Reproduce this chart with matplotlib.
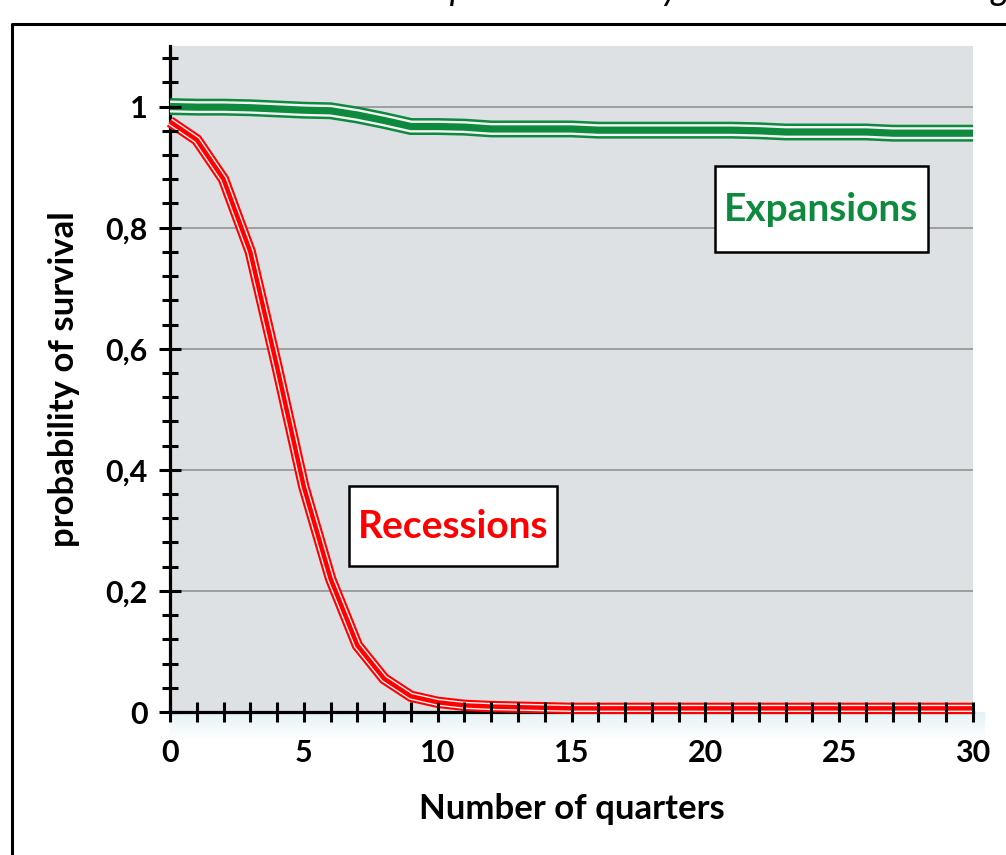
import matplotlib
matplotlib.use("Agg")
import matplotlib.pyplot as plt
from matplotlib.lines import Line2D
from matplotlib.patches import Rectangle
from matplotlib.ticker import MultipleLocator, FixedLocator, FixedFormatter
import numpy as np

# ---------------- data ----------------
quarters = list(range(31))
recessions = [0.975, 0.945, 0.880, 0.760, 0.570, 0.372, 0.220, 0.110, 0.055, 0.026,
              0.016, 0.011, 0.009, 0.008, 0.007, 0.006, 0.006, 0.006, 0.006, 0.006,
              0.006, 0.006, 0.006, 0.006, 0.006, 0.006, 0.006, 0.006, 0.006, 0.006, 0.006]
expansions = [1.000, 0.999, 0.999, 0.998, 0.996, 0.994, 0.993, 0.986, 0.977, 0.967,
              0.967, 0.966, 0.963, 0.963, 0.963, 0.963, 0.961, 0.961, 0.961, 0.961,
              0.961, 0.961, 0.960, 0.958, 0.958, 0.958, 0.958, 0.956, 0.956, 0.956, 0.956]
y_major = [0, 0.2, 0.4, 0.6, 0.8, 1.0]
y_labels = ["0", "0,2", "0,4", "0,6", "0,8", "1"]
x_major = [0, 5, 10, 15, 20, 25, 30]
x_labels = ["0", "5", "10", "15", "20", "25", "30"]
title_text = "Survival probabilities by the duration and length"

FONT = "Lato"
plt.rcParams['font.family'] = [FONT, 'DejaVu Sans']

W, H = 1006, 855
fig = plt.figure(figsize=(W / 100, H / 100), dpi=100)
fig.patch.set_facecolor("white")

def px(x0, y0, x1, y1):
    return [x0 / W, 1 - y1 / H, (x1 - x0) / W, (y1 - y0) / H]

# faint gradient strip below the plot area
gax = fig.add_axes(px(170, 712, 985, 740), zorder=0)
grad = np.linspace(0, 1, 50).reshape(-1, 1)
c0 = np.array([0.89, 0.95, 0.96]); c1 = np.array([1.0, 1.0, 1.0])
img = c0[None, None, :] * (1 - grad[:, :, None]) + c1[None, None, :] * grad[:, :, None]
gax.imshow(img, aspect='auto', extent=[0, 1, 0, 1])
gax.axis('off')

ax = fig.add_axes(px(170, 46, 973, 712), zorder=1)
ax.set_facecolor("#DEE1E4")
ax.set_xlim(0, 30)
ax.set_ylim(0, 1.1)

# grid
for yv in y_major[1:]:
    ax.axhline(yv, color="#8C8C8C", lw=1.1, zorder=1)

def compound(x, y, color, wo, wi, wc):
    ax.plot(x, y, color=color, lw=wo, solid_capstyle='butt', solid_joinstyle='miter', zorder=3, clip_on=False)
    ax.plot(x, y, color="#F4F4F4", lw=wi, solid_capstyle='butt', solid_joinstyle='miter', zorder=4, clip_on=False)
    ax.plot(x, y, color=color, lw=wc, solid_capstyle='butt', solid_joinstyle='miter', zorder=5, clip_on=False)

GREEN = "#0E8A3E"
RED = "#FF0000"
compound(quarters, expansions, GREEN, 12.2, 8.6, 5.2)
compound(quarters, recessions, RED, 8.2, 5.2, 3.2)

# spines (below the curves), ticks on top
for s in ["top", "right"]:
    ax.spines[s].set_visible(False)
for s in ["left", "bottom"]:
    ax.spines[s].set_linewidth(2.3)
    ax.spines[s].set_color("black")
    ax.spines[s].set_zorder(2.6)
ax.xaxis.set_zorder(6)
ax.yaxis.set_zorder(6)

ax.xaxis.set_major_locator(FixedLocator(x_major))
ax.xaxis.set_major_formatter(FixedFormatter(x_labels))
ax.xaxis.set_minor_locator(MultipleLocator(1))
ax.yaxis.set_major_locator(FixedLocator(y_major))
ax.yaxis.set_major_formatter(FixedFormatter(y_labels))
ax.yaxis.set_minor_locator(MultipleLocator(0.04))

ax.tick_params(axis='x', which='both', direction='inout', length=15, width=2.2, color='black', pad=12)
ax.tick_params(axis='y', which='major', direction='inout', length=16, width=2.2, color='black', pad=8)
ax.tick_params(axis='y', which='minor', direction='inout', length=12, width=2.2, color='black')
for lab in ax.get_xticklabels() + ax.get_yticklabels():
    lab.set_fontsize(22)
    lab.set_fontweight('bold')

ax.set_xlabel("Number of quarters", fontsize=25, fontweight='bold', labelpad=19)
ax.set_ylabel("probability of survival", fontsize=25, fontweight='bold', labelpad=18)

# label boxes
ax.add_patch(Rectangle((20.36, 0.760), 28.32 - 20.36, 0.901 - 0.760, facecolor='white',
                       edgecolor='black', lw=1.8, zorder=7))
ax.text(24.32, 0.830, "Expansions", color=GREEN, fontsize=28, fontweight='bold',
        ha='center', va='center', zorder=8)
ax.add_patch(Rectangle((6.69, 0.241), 14.46 - 6.69, 0.374 - 0.241, facecolor='white',
                       edgecolor='black', lw=1.8, zorder=7))
ax.text(10.57, 0.307, "Recessions", color=RED, fontsize=28, fontweight='bold',
        ha='center', va='center', zorder=8)

# outer frame
fig.add_artist(Line2D([12 / W, 12 / W, 1.0], [0.0, 1 - 24 / H, 1 - 24 / H],
                      color='black', lw=2.2, transform=fig.transFigure))

# title (cut off by the top edge in the original)
fig.text(322 / W, 1.0, title_text, fontsize=26, style='italic', ha='left', va='baseline')

fig.savefig("out.png", dpi=100)
